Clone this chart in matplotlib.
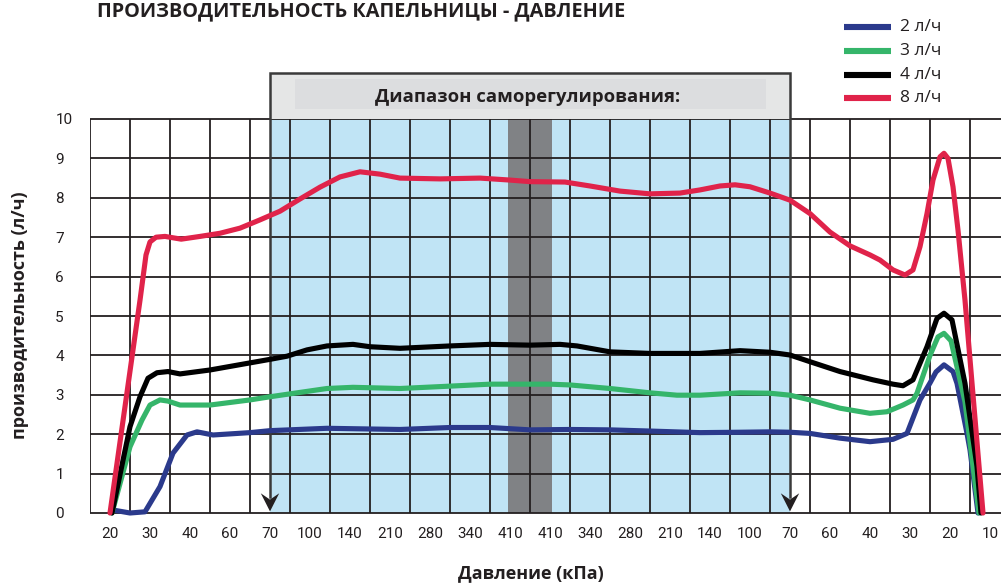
import matplotlib
matplotlib.use("Agg")
import matplotlib.pyplot as plt
from matplotlib.patches import Rectangle, Polygon
from matplotlib.lines import Line2D

# ---------------- data ----------------
tick_labels = ["20", "30", "40", "60", "70", "100", "140", "210", "280", "340", "410",
               "410", "340", "280", "210", "140", "100", "70", "60", "40", "30", "20", "10"]
y_ticks = [0, 1, 2, 3, 4, 5, 6, 7, 8, 9, 10]

series_names = ["2 л/ч", "3 л/ч", "4 л/ч", "8 л/ч"]
series_colors = ["#2b3a8c", "#35b56a", "#000000", "#e0234a"]

# x positions are in category units (0 = first tick "20")
x_2 = [0.05, 0.5, 0.875, 1.25, 1.575, 1.925, 2.175, 2.575, 3.5, 4.0, 5.425, 7.25, 8.5, 9.5,
       10.5, 11.5, 12.5, 13.5, 14.75, 15.75, 16.5, 17.0, 17.5, 18.25, 19.0, 19.575, 19.925,
       20.25, 20.5, 20.65, 20.85, 21.075, 21.175, 21.425, 21.5, 21.7]
y_2 = [0.08, 0.0, 0.03, 0.67, 1.52, 1.98, 2.06, 1.98, 2.04, 2.09, 2.15, 2.12, 2.17, 2.17,
       2.11, 2.12, 2.11, 2.08, 2.04, 2.05, 2.06, 2.05, 2.02, 1.9, 1.81, 1.87, 2.02,
       2.87, 3.3, 3.58, 3.76, 3.59, 3.29, 2.02, 1.6, 0.0]

x_3 = [0.05, 0.5, 0.8, 1.0, 1.25, 1.45, 1.75, 2.5, 3.5, 4.0, 4.675, 5.425, 6.075, 7.25,
       8.5, 9.5, 11.0, 11.5, 12.5, 13.5, 14.175, 14.75, 15.75, 16.5, 17.0, 17.5, 18.25,
       19.0, 19.425, 19.825, 20.075, 20.175, 20.5, 20.7, 20.85, 21.025, 21.375, 21.575, 21.725]
y_3 = [0.0, 1.68, 2.36, 2.74, 2.87, 2.84, 2.74, 2.74, 2.87, 2.95, 3.05, 3.16, 3.19, 3.16,
       3.22, 3.27, 3.27, 3.25, 3.16, 3.05, 2.99, 2.99, 3.05, 3.04, 2.99, 2.87, 2.66,
       2.53, 2.57, 2.74, 2.87, 3.04, 4.0, 4.47, 4.56, 4.37, 2.82, 1.18, 0.0]

x_4 = [0.05, 0.5, 0.75, 0.95, 1.175, 1.45, 1.75, 2.5, 3.5, 4.0, 4.425, 4.925, 5.425,
       6.075, 6.5, 7.25, 8.5, 9.5, 10.5, 11.25, 11.675, 12.5, 13.5, 14.75, 15.75, 16.5,
       17.0, 17.5, 18.25, 19.075, 19.575, 19.825, 20.075, 20.425, 20.675, 20.85, 21.05,
       21.375, 21.675, 21.775]
y_4 = [0.0, 2.19, 2.95, 3.42, 3.56, 3.59, 3.53, 3.63, 3.81, 3.9, 3.98, 4.14, 4.24,
       4.28, 4.22, 4.18, 4.24, 4.28, 4.26, 4.28, 4.24, 4.09, 4.05, 4.05, 4.12, 4.08,
       4.01, 3.84, 3.59, 3.38, 3.27, 3.23, 3.38, 4.22, 4.94, 5.07, 4.9,
       3.29, 1.18, 0.0]

x_8 = [0.0, 0.75, 0.9, 1.0, 1.15, 1.375, 1.78, 2.25, 2.75, 3.25, 3.75, 4.25, 4.75, 5.25,
       5.75, 6.25, 6.75, 7.25, 8.25, 9.25, 10.0, 10.5, 11.375, 12.0, 12.75, 13.5, 14.25,
       14.75, 15.25, 15.625, 16.0, 16.5, 17.0, 17.5, 18.0, 18.5, 19.0, 19.25, 19.575,
       19.875, 20.075, 20.25, 20.425, 20.575, 20.75, 20.85, 20.95, 21.075, 21.2, 21.375, 21.825]
y_8 = [0.0, 5.4, 6.55, 6.88, 7.0, 7.02, 6.95, 7.02, 7.1, 7.23, 7.44, 7.66, 7.97, 8.27,
       8.53, 8.66, 8.6, 8.5, 8.48, 8.5, 8.45, 8.41, 8.4, 8.3, 8.17, 8.1, 8.12,
       8.2, 8.3, 8.33, 8.28, 8.12, 7.94, 7.6, 7.13, 6.78, 6.55, 6.42, 6.17,
       6.04, 6.17, 6.76, 7.6, 8.45, 9.04, 9.13, 9.0, 8.28, 7.18, 5.4, 0.0]

series_x = [x_2, x_3, x_4, x_8]
series_y = [y_2, y_3, y_4, y_8]

range_start, range_end = 4, 17          # self-regulation range (category positions)
band_start, band_end = 9.95, 11.05      # dark band around max pressure
range_title = "Диапазон саморегулирования:"
chart_title = "ПРОИЗВОДИТЕЛЬНОСТЬ КАПЕЛЬНИЦЫ - ДАВЛЕНИЕ"
x_label = "Давление (кПа)"
y_label = "производительность (л/ч)"

# ---------------- figure ----------------
W, H = 1001, 583
fig = plt.figure(figsize=(W / 100, H / 100), dpi=100)
ax_left, ax_right, ax_top, ax_bottom = 90, 1001, 119, 513
ax = fig.add_axes([ax_left / W, (H - ax_bottom) / H, (ax_right - ax_left) / W, (ax_bottom - ax_top) / H])
ax.set_xlim(-0.5, (ax_right - 110) / 40)
ax.set_ylim(0, 10)
for s in ax.spines.values():
    s.set_visible(False)

dark = "#231f20"
# shaded range
ax.axvspan(range_start, range_end, color="#c0e4f5", zorder=0, lw=0)
ax.axvspan(band_start, band_end, color="#808285", zorder=0.5, lw=0)

# grid
n = len(tick_labels)
ax.vlines([i - 0.5 for i in range(n)], 0, 10, colors=dark, lw=1.3, zorder=1)
ax.hlines(y_ticks, -0.5, ax.get_xlim()[1], colors=dark, lw=1.3, zorder=1, clip_on=False)

# box above the range
box_top = (ax_bottom - 73) / 39.4
ax.add_patch(Rectangle((range_start, 10), range_end - range_start, box_top - 10,
                       facecolor="#e5e6e6", edgecolor="none", clip_on=False, zorder=1))
ax.add_patch(Rectangle(((295 - 110) / 40, (ax_bottom - 108.7) / 39.4),
                       (766 - 295) / 40, (108.7 - 79) / 39.4,
                       facecolor="#dcdddf", edgecolor="none", clip_on=False, zorder=1.1))
ax.plot([range_start, range_start, range_end, range_end], [0.4, box_top, box_top, 0.4],
        color="#3a3a3a", lw=1.8, clip_on=False, zorder=1.5, solid_joinstyle="miter")
ax.text((range_start + range_end) / 2 - 0.05, (ax_bottom - 97) / 39.4, range_title,
        ha="center", va="center", fontsize=13.3, fontweight="bold", family="Open Sans",
        color=dark, zorder=2)
for xa in (range_start, range_end):
    ax.add_patch(Polygon([(xa, 0.04), (xa - 0.23, 0.5), (xa, 0.34), (xa + 0.23, 0.5)],
                         closed=True, facecolor=dark, edgecolor="none", zorder=2))

# curves
order = [1, 0, 2, 3]
for k in order:
    ax.plot(series_x[k], series_y[k], color=series_colors[k], lw=3.7, zorder=3 + k,
            solid_joinstyle="round", solid_capstyle="round", clip_on=False)

# ticks
ax.set_xticks(range(n))
ax.set_xticklabels(tick_labels, family="Roboto", fontsize=11, color=dark)
ax.set_yticks(y_ticks)
ax.set_yticklabels([str(v) for v in y_ticks], family="Roboto", fontsize=11, color=dark)
ax.tick_params(axis="both", length=0)
ax.tick_params(axis="x", pad=10)
ax.tick_params(axis="y", pad=25)
for lab in ax.get_yticklabels():
    lab.set_horizontalalignment("left")

# labels
fig.text(531 / W, 1 - 573 / H, x_label, ha="center", va="center", fontsize=13,
         fontweight="bold", family="Open Sans", color=dark)
fig.text(20 / W, 1 - 315 / H, y_label, ha="center", va="center", rotation=90, fontsize=13,
         fontweight="bold", family="Open Sans", color=dark)
fig.text(97 / W, 1 - 16 / H, chart_title, ha="left", va="baseline", fontsize=14.3,
         fontweight="bold", family="Open Sans", color=dark)

# legend
leg_y = [26.7, 50.7, 74.7, 97.7]
for k in range(4):
    yy = 1 - leg_y[k] / H
    fig.add_artist(Line2D([844 / W, 891 / W], [yy, yy], color=series_colors[k], lw=4.4,
                          solid_capstyle="butt"))
    fig.text(900 / W, yy, series_names[k], ha="left", va="center", fontsize=12.5,
             family="Open Sans", color=dark)

fig.savefig("out.png", dpi=100)
